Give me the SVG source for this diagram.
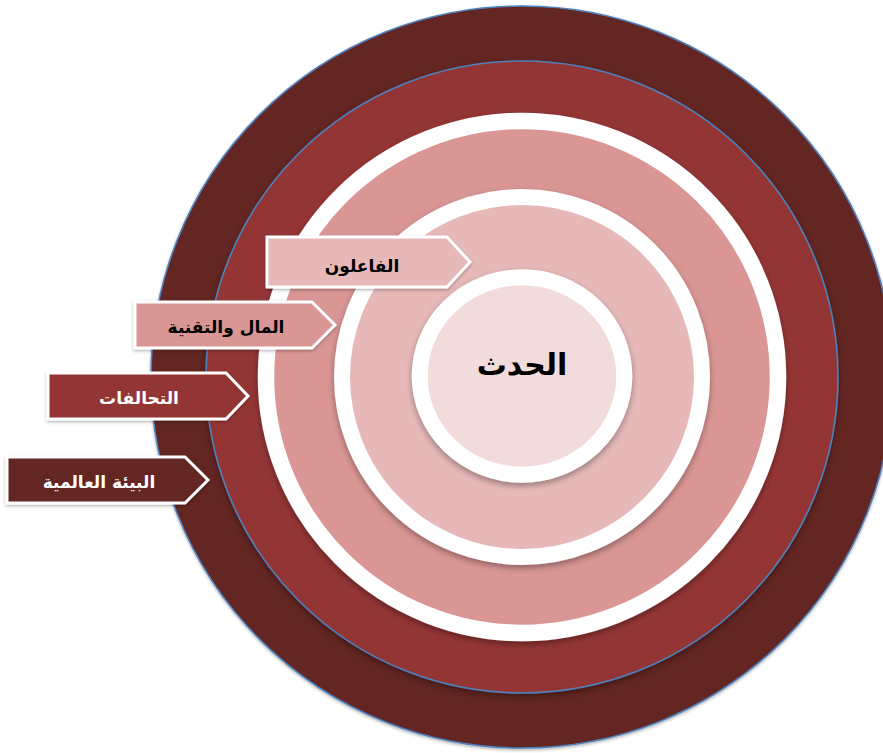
<svg xmlns="http://www.w3.org/2000/svg" width="883" height="753" viewBox="0 0 883 753">
  <defs>
    <filter id="sh" x="-10%" y="-10%" width="120%" height="125%">
      <feDropShadow dx="0" dy="3" stdDeviation="3" flood-color="#000" flood-opacity="0.35"/>
    </filter>
    <filter id="shs" x="-10%" y="-20%" width="120%" height="150%">
      <feDropShadow dx="0" dy="1.5" stdDeviation="1.5" flood-color="#000" flood-opacity="0.3"/>
    </filter>
  </defs>
  <style>
    .blue { stroke: #4F81BD; stroke-width: 1.6; }
    .wr { stroke: #FFFFFF; }
    .lab { stroke: #FFFFFF; stroke-width: 3; stroke-linejoin: miter; }
    text { font-family: "DejaVu Sans", "Liberation Sans", sans-serif; font-weight: bold; text-anchor: middle; direction: rtl; }
    .dk { fill: #000000; }
    .wt { fill: #FFFFFF; }
  </style>
  <rect width="883" height="753" fill="#FFFFFF"/>
  <g id="ring-global">
    <circle cx="522" cy="377" r="371" fill="#632523" class="blue" filter="url(#shs)"/>
  </g>
  <g id="ring-alliances">
    <circle cx="522" cy="377" r="316" fill="#943634" class="blue" filter="url(#sh)"/>
  </g>
  <g id="ring-money">
    <circle cx="522" cy="377" r="256" fill="#D99694" class="wr" stroke-width="16.5" filter="url(#sh)"/>
  </g>
  <g id="ring-actors">
    <circle cx="522" cy="377" r="180" fill="#E6B9B8" class="wr" stroke-width="16" filter="url(#sh)"/>
  </g>
  <g id="center-event">
    <ellipse cx="522" cy="376" rx="102.3" ry="98.7" fill="#F2DCDB" class="wr" stroke-width="16" filter="url(#sh)"/>
    <text x="522" y="375" font-size="30" class="dk">الحدث</text>
  </g>
  <g id="connectors"/>
  <g id="label-actors">
    <polygon points="267,237 447,237 470,262 447,287 267,287" fill="#E6B9B8" class="lab" filter="url(#shs)"/>
    <text x="362" y="272" font-size="17" class="dk">الفاعلون</text>
  </g>
  <g id="label-money">
    <polygon points="135,302 312,302 335,325 312,348 135,348" fill="#D99694" class="lab" filter="url(#shs)"/>
    <text x="226" y="333" font-size="17" class="dk">المال والتقنية</text>
  </g>
  <g id="label-alliances">
    <polygon points="48,373 226,373 248,396 226,419 48,419" fill="#943634" class="lab" filter="url(#shs)"/>
    <text x="139" y="404" font-size="17" class="wt">التحالفات</text>
  </g>
  <g id="label-global">
    <polygon points="7,457 185,457 208,480 185,503 7,503" fill="#632523" class="lab" filter="url(#shs)"/>
    <text x="99" y="488" font-size="17" class="wt">البيئة العالمية</text>
  </g>
</svg>
